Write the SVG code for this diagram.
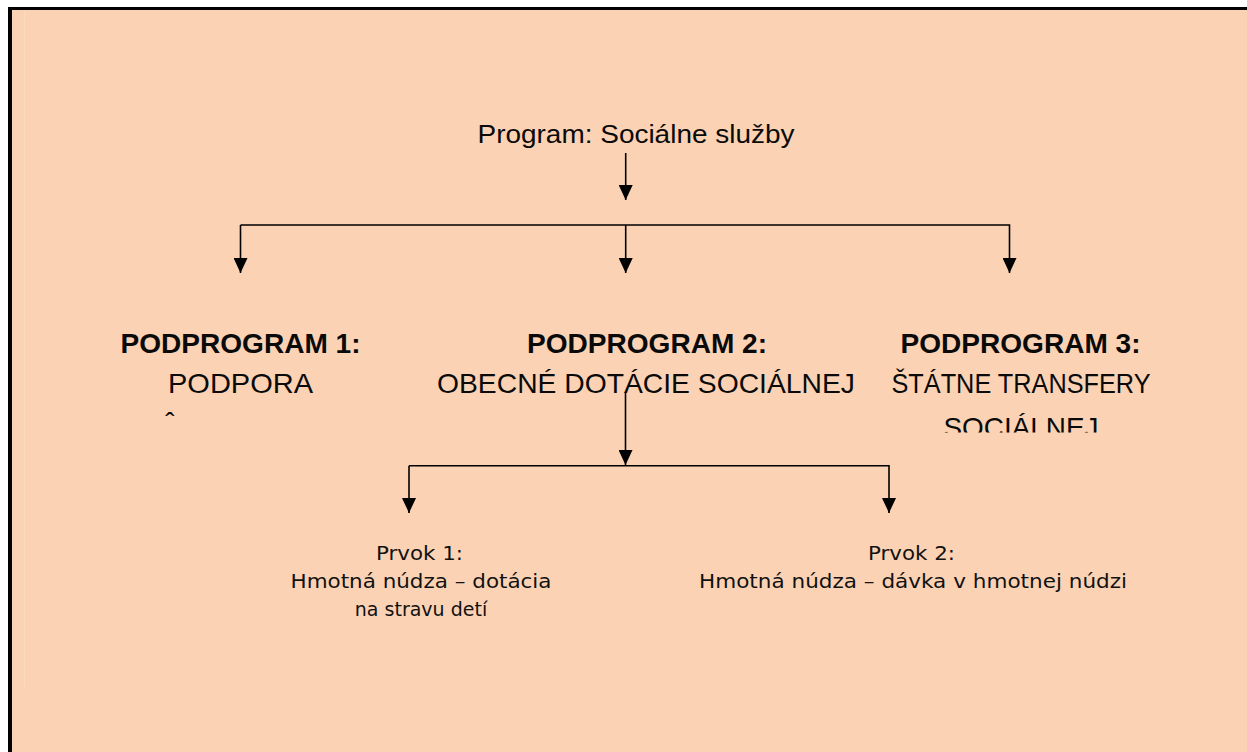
<svg xmlns="http://www.w3.org/2000/svg" width="1247" height="752" viewBox="0 0 1247 752">
<style>
.h{font-family:"Liberation Sans",Arial,sans-serif;fill:#0a0a0a}
.b{font-weight:bold;font-size:28px}
.r{font-size:28px}
.s{font-family:"DejaVu Sans",Verdana,sans-serif;font-size:19px;fill:#111}
.c{fill:none;stroke:#000;stroke-width:1.6}
</style>
<defs>
<marker id="ah" viewBox="0 0 15 14" refX="15" refY="7" markerWidth="15" markerHeight="14" markerUnits="userSpaceOnUse" orient="auto">
<path d="M0,0 L15,7 L0,14 z" fill="#000"/>
</marker>
<clipPath id="clipR"><rect x="850" y="400" width="300" height="32.5"/></clipPath>
</defs>
<rect x="0" y="0" width="1247" height="752" fill="#fff"/>
<rect x="8" y="7" width="1239" height="745" fill="#000"/>
<rect x="12" y="10" width="1235" height="742" fill="#FBD3B4"/>
<line x1="24.5" y1="10" x2="24.5" y2="687" stroke="#FCDAC0" stroke-width="1"/>
<g id="root">
<text class="h" x="636" y="143" font-size="25" text-anchor="middle" textLength="317" lengthAdjust="spacingAndGlyphs">Program: Sociálne služby</text>
</g>
<g id="podprogram1">
<text class="h b" x="240.5" y="353" text-anchor="middle" textLength="240" lengthAdjust="spacingAndGlyphs">PODPROGRAM 1:</text>
<text class="h r" x="240.5" y="393" text-anchor="middle" textLength="145" lengthAdjust="spacingAndGlyphs">PODPORA</text>
<text class="h r" x="170" y="432" text-anchor="middle">ˆ</text>
</g>
<g id="podprogram2">
<text class="h b" x="647" y="353" text-anchor="middle" textLength="240" lengthAdjust="spacingAndGlyphs">PODPROGRAM 2:</text>
<text class="h r" x="646" y="393" text-anchor="middle" textLength="418" lengthAdjust="spacingAndGlyphs">OBECNÉ DOTÁCIE SOCIÁLNEJ</text>
</g>
<g id="podprogram3">
<text class="h b" x="1020.5" y="353" text-anchor="middle" textLength="240" lengthAdjust="spacingAndGlyphs">PODPROGRAM 3:</text>
<text class="h r" x="1021" y="393" text-anchor="middle" textLength="259" lengthAdjust="spacingAndGlyphs">ŠTÁTNE TRANSFERY</text>
<text class="h r" x="1021" y="437" text-anchor="middle" textLength="155" lengthAdjust="spacingAndGlyphs" clip-path="url(#clipR)">SOCIÁLNEJ</text>
</g>
<g id="prvok1">
<text class="s" x="419.5" y="560" text-anchor="middle" textLength="87" lengthAdjust="spacingAndGlyphs">Prvok 1:</text>
<text class="s" x="421" y="588" text-anchor="middle" textLength="261" lengthAdjust="spacingAndGlyphs">Hmotná núdza – dotácia</text>
<text class="s" x="421" y="616" text-anchor="middle">na stravu detí</text>
</g>
<g id="prvok2">
<text class="s" x="911.5" y="560" text-anchor="middle" textLength="87" lengthAdjust="spacingAndGlyphs">Prvok 2:</text>
<text class="s" x="913" y="588" text-anchor="middle" textLength="428" lengthAdjust="spacingAndGlyphs">Hmotná núdza – dávka v hmotnej núdzi</text>
</g>
<g id="connectors">
<path class="c" d="M625.7,153 V200" marker-end="url(#ah)"/>
<path class="c" d="M240.5,225 H1009.5 V273" marker-end="url(#ah)"/>
<path class="c" d="M240.5,225 V273" marker-end="url(#ah)"/>
<path class="c" d="M625.7,225 V273" marker-end="url(#ah)"/>
<path class="c" d="M625.5,392 V465" marker-end="url(#ah)"/>
<path class="c" d="M409,465.7 H889 V513" marker-end="url(#ah)"/>
<path class="c" d="M409,465.7 V513" marker-end="url(#ah)"/>
</g>
</svg>
